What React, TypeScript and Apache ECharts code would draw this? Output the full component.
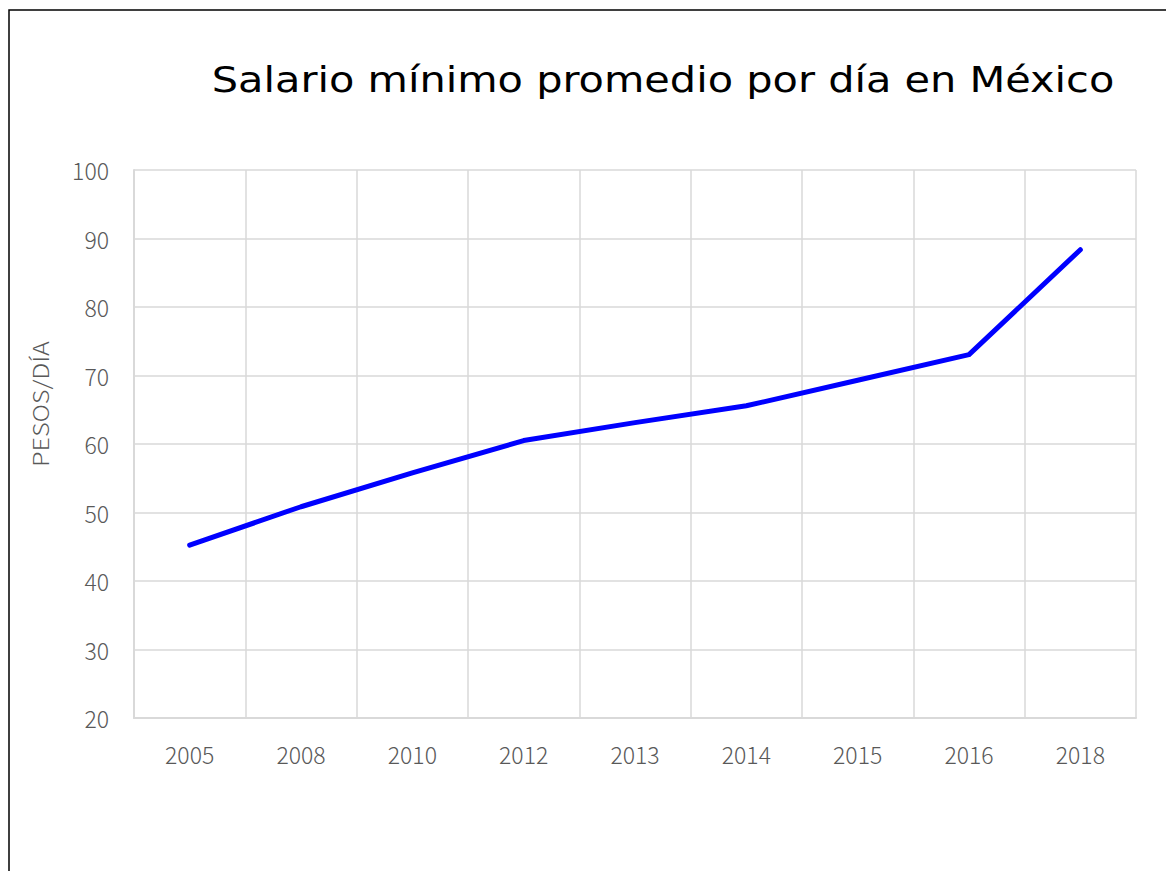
import React, { useEffect, useRef } from "react";
import * as echarts from "echarts";

const TITLE = "Salario mínimo promedio por día en México";
const Y_NAME = "PESOS/DÍA";
const years = ["2005", "2008", "2010", "2012", "2013", "2014", "2015", "2016", "2018"];
const salary = [45.24, 50.84, 55.77, 60.5, 63.12, 65.58, 69.3, 73.04, 88.36];

export default function App() {
  const ref = useRef<HTMLDivElement>(null);
  useEffect(() => {
    if (!ref.current) return;
    const chart = echarts.init(ref.current, undefined, { renderer: "svg" });
    const labelFont = "'Noto Sans CJK JP', 'Noto Sans', sans-serif";
    chart.setOption({
      animation: false,
      backgroundColor: "#ffffff",
      graphic: [
        {
          type: "rect",
          shape: { x: 9, y: 10, width: 1300, height: 1000 },
          style: { fill: "none", stroke: "#000000", lineWidth: 1.5 },
          silent: true,
        },
        {
          type: "text",
          x: 663,
          y: 80,
          scaleX: 1.185,
          style: {
            text: TITLE,
            fontSize: 35,
            fontFamily: "'DejaVu Sans', sans-serif",
            fill: "#000000",
            align: "center",
            verticalAlign: "middle",
          },
        },
        {
          type: "text",
          x: 40,
          y: 404,
          rotation: Math.PI / 2,
          scaleX: 1.2,
          style: {
            text: Y_NAME,
            fontSize: 21,
            fontFamily: labelFont,
            fontWeight: 300,
            fill: "#595959",
            align: "center",
            verticalAlign: "middle",
          },
        },
      ],
      grid: { left: 134, right: 30, top: 170, bottom: 153 },
      xAxis: {
        type: "category",
        data: years,
        boundaryGap: true,
        axisLine: { show: true, lineStyle: { color: "#d9d9d9", width: 2 } },
        axisTick: { show: false },
        splitLine: { show: true, lineStyle: { color: "#d9d9d9", width: 1.5 } },
        axisLabel: {
          margin: 24,
          fontSize: 23,
          fontFamily: labelFont,
          fontWeight: 300,
          color: "#595959",
        },
      },
      yAxis: {
        type: "value",
        min: 20,
        max: 100,
        interval: 10,
        axisLine: { show: true, lineStyle: { color: "#d9d9d9", width: 2 } },
        axisTick: { show: false },
        splitLine: { show: true, lineStyle: { color: "#d9d9d9", width: 1.5 } },
        axisLabel: {
          margin: 25,
          fontSize: 23,
          fontFamily: labelFont,
          fontWeight: 300,
          color: "#595959",
        },
      },
      series: [
        {
          type: "line",
          data: salary,
          showSymbol: false,
          symbol: "none",
          lineStyle: { color: "#0000ff", width: 5, cap: "round", join: "round" },
        },
      ],
    });
    return () => chart.dispose();
  }, []);
  return (
    <div
      ref={ref}
      style={{ position: "fixed", left: 0, top: 0, width: 1166, height: 871, background: "#fff" }}
    />
  );
}
